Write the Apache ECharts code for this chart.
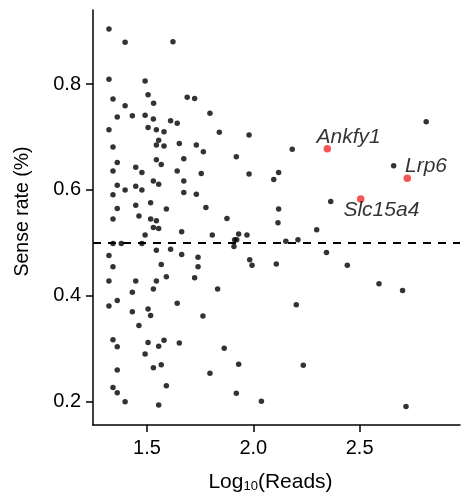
<!DOCTYPE html>
<html>
<head>
<meta charset="utf-8">
<script src="https://cdn.jsdelivr.net/npm/echarts@6/dist/echarts.min.js"></script>
<style>
html,body{margin:0;padding:0;background:#fff;}
#chart{width:461px;height:493px;}
</style>
</head>
<body>
<div id="chart"></div>
<script>
// ---- data ----
const readsLog10 = [
1.321,1.397,1.622,1.321,1.491,1.340,1.505,1.531,1.689,1.724,
1.397,1.796,1.360,1.431,1.491,1.530,1.611,1.642,1.321,1.505,
1.544,1.580,1.555,1.340,1.544,1.580,1.652,1.732,1.765,1.544,
1.673,1.360,1.340,1.447,1.476,1.567,1.642,1.755,1.530,1.555,
1.673,1.360,1.340,1.397,1.447,1.476,1.673,1.732,1.517,1.447,
1.360,1.591,1.777,1.340,1.462,1.517,1.544,1.530,1.555,1.491,
1.663,1.340,1.379,1.476,1.321,1.544,1.611,1.663,1.740,1.340,
1.567,1.740,1.321,1.447,1.544,1.591,1.724,1.530,1.431,1.360,
1.321,1.431,1.505,1.517,1.642,1.763,1.462,1.340,1.360,1.505,
1.580,1.555,1.652,1.491,1.360,1.530,1.567,1.796,1.340,1.360,
1.591,1.397,1.555,2.038,2.718,1.840,1.980,1.920,2.183,1.980,
2.119,2.096,2.364,2.119,1.876,2.116,1.807,1.931,1.970,2.298,
1.912,1.922,1.909,2.153,2.210,2.344,1.983,1.994,2.108,1.832,
2.202,1.863,1.931,2.235,1.920,2.813,2.660,2.442,2.591,2.702
];
const senseRate = [
0.904,0.879,0.880,0.809,0.806,0.772,0.780,0.764,0.775,0.773,
0.759,0.745,0.738,0.740,0.741,0.734,0.731,0.726,0.714,0.718,
0.714,0.710,0.694,0.681,0.685,0.683,0.688,0.685,0.672,0.657,
0.659,0.652,0.636,0.643,0.633,0.648,0.636,0.631,0.617,0.611,
0.617,0.609,0.591,0.600,0.607,0.600,0.595,0.592,0.576,0.571,
0.565,0.564,0.567,0.545,0.551,0.545,0.542,0.529,0.527,0.515,
0.521,0.499,0.499,0.499,0.476,0.486,0.488,0.478,0.473,0.455,
0.459,0.455,0.428,0.428,0.428,0.436,0.434,0.413,0.407,0.391,
0.381,0.370,0.375,0.363,0.386,0.362,0.344,0.317,0.304,0.312,
0.316,0.305,0.311,0.290,0.260,0.264,0.270,0.254,0.227,0.217,
0.230,0.200,0.194,0.201,0.191,0.709,0.704,0.663,0.677,0.630,
0.633,0.620,0.578,0.564,0.546,0.538,0.515,0.517,0.515,0.525,
0.506,0.506,0.493,0.503,0.506,0.482,0.468,0.458,0.460,0.413,
0.383,0.301,0.271,0.269,0.216,0.729,0.646,0.458,0.423,0.410
];
const geneNames = ['Ankfy1', 'Lrp6', 'Slc15a4'];
const geneReads = [2.348, 2.724, 2.505];
const geneSense = [0.678, 0.622, 0.583];
const xTicks = [1.5, 2.0, 2.5];
const yTicks = [0.2, 0.4, 0.6, 0.8];
const threshold = 0.5;

// ---- styles ----
const FONT = "'Liberation Sans', Arial, Helvetica, sans-serif";
const labelOffsets = { Ankfy1: [-7, -7.5], Lrp6: [1.5, -8], Slc15a4: [-13.5, 15] };

const chart = echarts.init(document.getElementById('chart'), null, { renderer: 'canvas' });

const blackData = readsLog10.map((x, i) => [x, senseRate[i]]);
const redData = geneNames.map((n, i) => ({
  name: n,
  value: [geneReads[i], geneSense[i]],
  label: { position: labelOffsets[n] }
}));

const axisCommon = {
  type: 'value',
  splitLine: { show: false },
  axisLine: { show: true, onZero: false, lineStyle: { color: '#000', width: 1.5 } },
  axisTick: { show: true, length: 7, lineStyle: { color: '#000', width: 1.5 } },
  axisLabel: { color: '#000', fontSize: 20, fontFamily: FONT, formatter: v => v.toFixed(1) }
};

chart.setOption({
  animation: false,
  backgroundColor: '#fff',
  grid: { left: 93, right: 1, top: 10, bottom: 68, containLabel: false, outerBoundsMode: 'none' },
  xAxis: Object.assign({}, axisCommon, {
    min: 1.246, max: 2.972,
    axisTick: Object.assign({}, axisCommon.axisTick, { customValues: xTicks }),
    axisLabel: Object.assign({}, axisCommon.axisLabel, { customValues: xTicks, margin: 13 }),
    name: '{a|Log}{s|10}{a|(Reads)}',
    nameLocation: 'middle',
    nameGap: 46,
    nameTextStyle: {
      padding: [0, 12, 0, 0],
      rich: {
        a: { fontSize: 21, fontFamily: FONT, color: '#000' },
        s: { fontSize: 13, fontFamily: FONT, color: '#000', verticalAlign: 'bottom', padding: [9, 0, 0, 0] }
      }
    }
  }),
  yAxis: Object.assign({}, axisCommon, {
    min: 0.156, max: 0.94,
    axisTick: Object.assign({}, axisCommon.axisTick, { customValues: yTicks }),
    axisLabel: Object.assign({}, axisCommon.axisLabel, { customValues: yTicks, margin: 12 }),
    name: 'Sense rate (%)',
    nameLocation: 'middle',
    nameGap: 60,
    nameTextStyle: { fontSize: 19.5, fontFamily: FONT, color: '#000', padding: [0, 0, 0, 12] }
  }),
  series: [
    {
      type: 'scatter',
      data: blackData,
      symbolSize: 5.5,
      itemStyle: { color: '#000' },
      silent: true,
      markLine: {
        silent: true,
        symbol: 'none',
        label: { show: false },
        lineStyle: { color: '#000', type: [8, 7], width: 2 },
        data: [{ yAxis: threshold }]
      }
    },
    {
      type: 'scatter',
      data: redData,
      symbolSize: 7.5,
      itemStyle: { color: '#f52a2a' },
      silent: true,
      label: {
        show: true,
        formatter: '{b}',
        fontStyle: 'italic',
        fontSize: 21,
        fontFamily: FONT,
        color: '#000',
        align: 'left',
        verticalAlign: 'middle'
      }
    }
  ]
});
</script>
</body>
</html>
